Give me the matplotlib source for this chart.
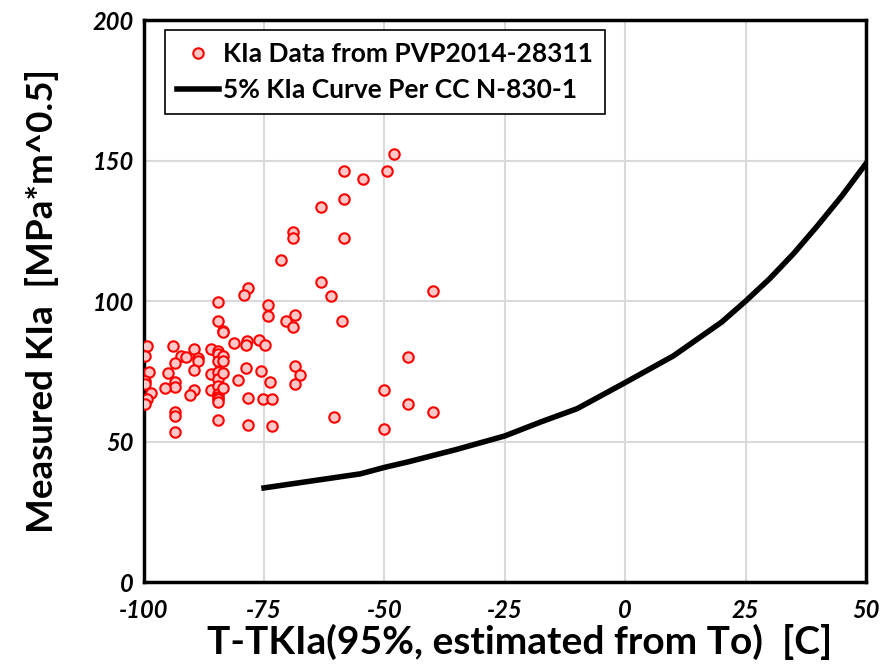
import matplotlib
matplotlib.use("Agg")
import matplotlib.pyplot as plt

plt.rcParams['font.family'] = ['Lato', 'DejaVu Sans']
plt.rcParams['axes.unicode_minus'] = False

# Scatter data: KIa Data from PVP2014-28311
data_x = [
    -99.3, -99.7, -98.9, -99.7, -99.7, -98.4, -99.2, -99.7,
    -93.9, -92.3, -91.1, -93.5, -95.0, -93.5, -93.5, -95.5, -93.5, -93.5, -93.5,
    -89.6, -88.8, -88.8, -89.6, -89.6, -90.4,
    -86.1, -86.1, -86.1,
    -84.6, -84.6, -84.6, -84.6, -84.6, -84.6, -84.6, -84.6, -84.6, -84.6, -84.6, -84.6, -84.6,
    -83.5, -83.5, -83.5, -83.5, -83.5, -83.5,
    -81.3, -80.4, -78.3, -79.2, -78.5, -78.8, -78.8, -78.3, -78.3,
    -76.0, -74.8, -75.7, -74.1, -74.1, -73.7, -75.3, -73.4, -73.4,
    -71.4, -69.0, -69.0, -68.6, -70.5, -69.0, -68.6, -67.5, -68.6,
    -63.1, -63.1, -61.2, -60.4, -58.5, -58.5, -58.5, -58.8,
    -54.5, -49.4, -48.1, -50.1, -50.1,
    -45.1, -45.1, -40.0, -40.0,
]
data_y = [
    83.9, 80.6, 74.7, 71.7, 70.6, 67.1, 65.2, 63.4,
    83.9, 80.6, 80.0, 77.8, 74.4, 71.2, 69.5, 69.1, 60.6, 59.0, 53.3,
    82.8, 79.8, 78.8, 75.6, 68.5, 66.7,
    83.0, 73.9, 68.5,
    99.6, 92.8, 82.2, 81.1, 78.6, 74.7, 72.2, 69.7, 67.0, 66.0, 65.0, 64.2, 57.8,
    89.5, 89.0, 80.3, 78.5, 74.4, 69.0,
    85.1, 71.8, 104.7, 102.3, 85.7, 84.5, 76.2, 65.6, 56.0,
    86.3, 84.5, 75.0, 98.5, 94.6, 71.1, 65.0, 65.0, 55.4,
    114.7, 124.7, 122.3, 95.1, 92.8, 90.7, 76.8, 73.8, 70.6,
    133.5, 106.8, 101.8, 58.9, 146.4, 136.4, 122.4, 92.9,
    143.6, 146.4, 152.5, 68.4, 54.5,
    80.1, 63.4, 103.5, 60.6,
]

# 5% KIa curve per CC N-830-1
curve_x = [-75, -65, -55, -50, -45, -35, -25, -17.5, -10, 0, 10, 20, 25, 30, 35, 40, 45, 50]
curve_y = [33.5, 36.0, 38.5, 40.8, 42.8, 47.2, 52.0, 57.0, 61.7, 71.0, 80.5, 92.5, 100.0,
           108.0, 117.0, 127.0, 137.5, 149.0]

x_ticks = [-100, -75, -50, -25, 0, 25, 50]
y_ticks = [0, 50, 100, 150, 200]

fig = plt.figure(figsize=(8.92, 6.69), dpi=100)
ax = fig.add_axes([0.161, 0.130, 0.810, 0.840])

ax.plot(data_x, data_y, linestyle='none', marker='o', markersize=7.5,
        markerfacecolor='#ffc8c8', markeredgecolor='#ff0000', markeredgewidth=1.5,
        label='KIa Data from PVP2014-28311', zorder=3)
ax.plot(curve_x, curve_y, color='black', linewidth=4,
        label='5% KIa Curve Per CC N-830-1', zorder=2)

ax.set_xlim(-100, 50)
ax.set_ylim(0, 200)
ax.set_xticks(x_ticks)
ax.set_yticks(y_ticks)
ax.grid(True, color='#d9d9d9', linewidth=1.5)
ax.set_axisbelow(True)
for s in ax.spines.values():
    s.set_linewidth(2.5)
    s.set_color('black')
ax.tick_params(axis='x', length=0, pad=12)
ax.tick_params(axis='y', length=0, pad=7)
for lab in ax.get_xticklabels() + ax.get_yticklabels():
    lab.set_fontsize(17)
    lab.set_fontweight('bold')
    lab.set_fontstyle('italic')

ax.set_xlabel('T-TKIa(95%, estimated from To)  [C]', fontsize=28, fontweight='bold')
ax.xaxis.set_label_coords(0.52, -0.075, transform=ax.transAxes)
ax.xaxis.label.set_va('top')
ax.set_ylabel('Measured KIa  [MPa*m^0.5]', fontsize=26.5, fontweight='bold', labelpad=24)

leg = ax.legend(loc='upper left', bbox_to_anchor=(0.03, 0.982), fancybox=False, shadow=False,
                framealpha=1, edgecolor='black', prop={'size': 19, 'weight': 'bold'},
                handlelength=1.6, handletextpad=0.15, borderpad=0.45, labelspacing=0.45,
                borderaxespad=0)
leg.get_frame().set_linewidth(1.2)

fig.savefig('out.png', dpi=100)
